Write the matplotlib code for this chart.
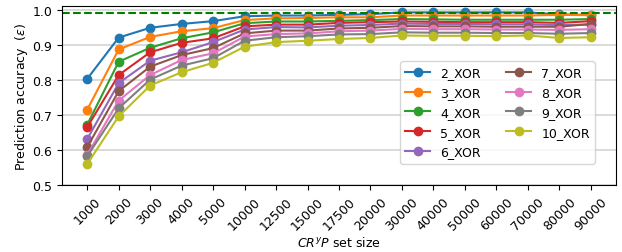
import numpy as np
from matplotlib import pyplot as plt

plt.rcParams["font.size"] = 9

set_sizes = ["1000", "2000", "3000", "4000", "5000", "10000", "12500", "15000",
             "17500", "20000", "30000", "40000", "50000", "60000", "70000",
             "80000", "90000"]

xor_2 = [0.803, 0.921, 0.949, 0.960, 0.968, 0.982, 0.984, 0.984, 0.986, 0.988,
         0.993, 0.993, 0.993, 0.993, 0.993, 0.987, 0.986]
xor_3 = [0.715, 0.887, 0.923, 0.939, 0.948, 0.971, 0.976, 0.977, 0.979, 0.979,
         0.984, 0.984, 0.984, 0.984, 0.984, 0.986, 0.985]
xor_4 = [0.672, 0.852, 0.892, 0.919, 0.936, 0.962, 0.967, 0.967, 0.969, 0.971,
         0.974, 0.973, 0.972, 0.972, 0.972, 0.972, 0.974]
xor_5 = [0.665, 0.814, 0.879, 0.906, 0.919, 0.953, 0.958, 0.958, 0.963, 0.965,
         0.967, 0.966, 0.965, 0.965, 0.965, 0.963, 0.968]
xor_6 = [0.631, 0.791, 0.855, 0.879, 0.908, 0.944, 0.951, 0.950, 0.955, 0.957,
         0.961, 0.960, 0.960, 0.959, 0.959, 0.957, 0.958]
xor_7 = [0.608, 0.768, 0.838, 0.871, 0.891, 0.933, 0.941, 0.941, 0.947, 0.949,
         0.954, 0.953, 0.953, 0.952, 0.952, 0.952, 0.960]
xor_8 = [0.586, 0.741, 0.814, 0.857, 0.876, 0.924, 0.931, 0.933, 0.939, 0.941,
         0.946, 0.945, 0.945, 0.944, 0.944, 0.943, 0.945]
xor_9 = [0.582, 0.719, 0.801, 0.841, 0.862, 0.912, 0.922, 0.925, 0.930, 0.931,
         0.936, 0.935, 0.935, 0.934, 0.934, 0.932, 0.934]
xor_10 = [0.560, 0.696, 0.784, 0.822, 0.849, 0.895, 0.908, 0.912, 0.917, 0.920,
          0.927, 0.926, 0.926, 0.925, 0.927, 0.920, 0.922]

series = [xor_2, xor_3, xor_4, xor_5, xor_6, xor_7, xor_8, xor_9, xor_10]
labels = ["2_XOR", "3_XOR", "4_XOR", "5_XOR", "6_XOR", "7_XOR", "8_XOR",
          "9_XOR", "10_XOR"]
target = 0.99

fig = plt.figure(figsize=(6.22, 2.53), dpi=100)
ax = fig.add_axes([0.0997, 0.265, 0.8907, 0.707])

x = np.arange(len(set_sizes))
for vals, lab in zip(series, labels):
    ax.plot(x, vals, marker="o", markersize=6, label=lab)

ax.axhline(target, color="green", linestyle="--", linewidth=1.5)

ax.set_ylim(0.5, 1.011)
ax.set_xticks(x)
ax.set_xticklabels(set_sizes, rotation=45)
ax.set_yticks([0.5, 0.6, 0.7, 0.8, 0.9, 1.0])
ax.yaxis.grid(True, color="lightgray", linewidth=1.2)
ax.set_axisbelow(True)

ax.set_xlabel("$CR^yP$ set size", labelpad=2)
ax.set_ylabel(r"Prediction accuracy  ($\epsilon$)", labelpad=2)

ax.legend(ncol=2, loc="lower right", bbox_to_anchor=(0.973, 0.085),
          labelspacing=0.55)

fig.savefig("out.png")
